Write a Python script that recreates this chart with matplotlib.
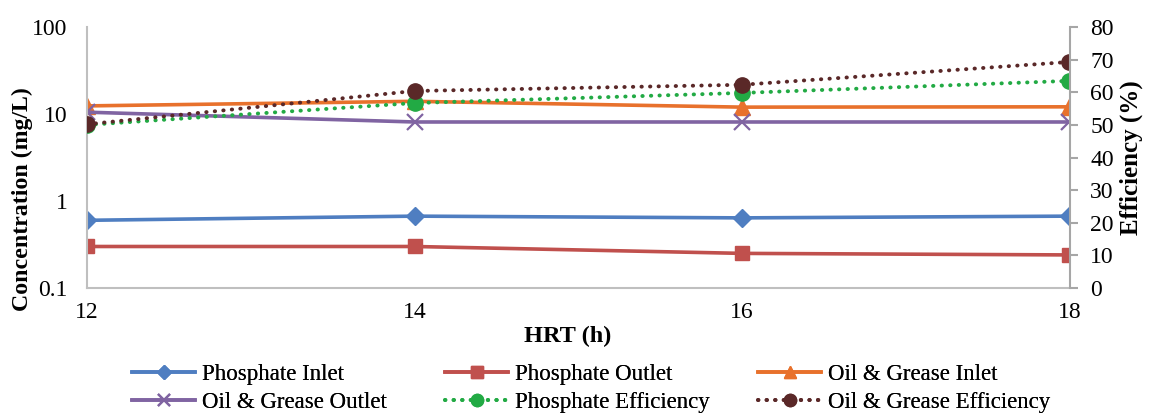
import matplotlib
matplotlib.use("Agg")
import matplotlib.pyplot as plt

hrt = [12, 14, 16, 18]
phosphate_inlet = [0.60, 0.67, 0.64, 0.67]
phosphate_outlet = [0.30, 0.30, 0.25, 0.24]
og_inlet = [12.4, 14.0, 12.0, 12.1]
og_outlet = [10.5, 8.1, 8.1, 8.1]
phosphate_eff = [50.0, 56.7, 59.8, 63.5]
og_eff = [50.2, 60.4, 62.3, 69.3]

plt.rcParams['font.family'] = ['Liberation Serif', 'DejaVu Serif']

fig = plt.figure(figsize=(11.5, 4.16), dpi=100)
ax = fig.add_axes([0.0757, 0.3077, 0.8543, 0.6273])
ax2 = ax.twinx()

grey = '#BFBFBF'
lw = 2.6
dot = (0, (0.1, 2.1))
h1, = ax.plot(hrt, phosphate_inlet, color='#4F7EC1', lw=lw, marker='D', ms=9, label='Phosphate Inlet')
h2, = ax.plot(hrt, phosphate_outlet, color='#C0504D', lw=lw, marker='s', ms=10, label='Phosphate Outlet')
h3, = ax.plot(hrt, og_inlet, color='#E8712C', lw=lw, marker='^', ms=11, label='Oil & Grease Inlet')
h4, = ax.plot(hrt, og_outlet, color='#8064A2', lw=lw, marker='x', ms=11, mew=1.6, label='Oil & Grease Outlet')
h5, = ax2.plot(hrt, phosphate_eff, color='#22AA44', lw=2.8, ls=dot, dash_capstyle='round',
               marker='o', ms=11, label='Phosphate Efficiency')
h6, = ax2.plot(hrt, og_eff, color='#5A2828', lw=2.8, ls=dot, dash_capstyle='round',
               marker='o', ms=11, label='Oil & Grease Efficiency')

ax.set_yscale('log')
ax.set_ylim(0.1, 100)
ax.set_xlim(12, 18)
ax.set_xticks(hrt)
ax.set_yticks([0.1, 1, 10, 100])
ax.set_yticklabels(['0.1', '1', '10', '100'])
ax.minorticks_off()
ax2.set_ylim(0, 80)
ax2.set_yticks(range(0, 81, 10))

for a in (ax, ax2):
    for s in a.spines.values():
        s.set_visible(False)
for side in ('left', 'bottom'):
    ax.spines[side].set_visible(True)
    ax.spines[side].set_color(grey)
    ax.spines[side].set_linewidth(1.5)
ax2.spines['right'].set_visible(True)
ax2.spines['right'].set_color('#A6A6A6')
ax2.spines['right'].set_linewidth(1.5)

ax.tick_params(axis='y', length=0, labelsize=17, pad=14)
ax.tick_params(axis='x', length=0, labelsize=17, pad=10)
ax2.tick_params(axis='y', length=6, width=1.5, color='#A6A6A6', labelsize=17, pad=9)

ax.set_xlabel('HRT (h)', fontsize=17.5, fontweight='bold')
ax.xaxis.set_label_coords(0.489, -0.146)
ax.set_ylabel('Concentration (mg/L)', fontsize=17.2, fontweight='bold')
ax.yaxis.set_label_coords(-0.0549, 0.34)
ax2.set_ylabel('Efficiency (%)', fontsize=18, fontweight='bold')
ax2.yaxis.set_label_coords(1.0508, 0.50)

groups = [(h1, h4), (h2, h5), (h3, h6)]
xs = [132, 445, 758]
for x, grp in zip(xs, groups):
    lg = fig.legend(handles=list(grp), labels=[h.get_label() for h in grp],
                    loc='upper left', bbox_to_anchor=(x / 1150, 0.124), frameon=False,
                    fontsize=16.5, handlelength=2.75, handletextpad=0.3,
                    labelspacing=0.28, markerscale=0.8, borderpad=0, borderaxespad=0)
    fig.add_artist(lg)

fig.savefig('out.png', dpi=100)
